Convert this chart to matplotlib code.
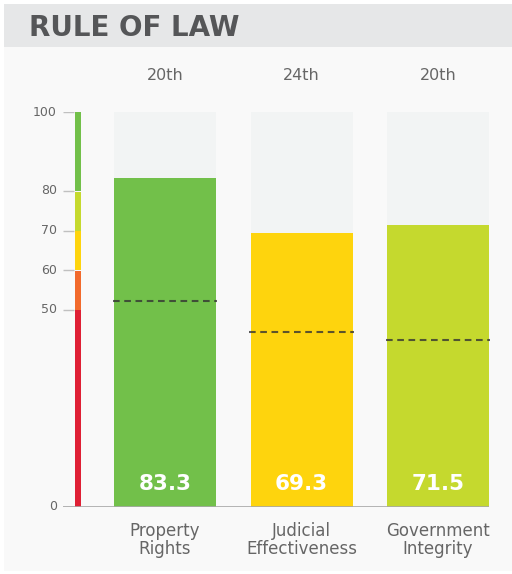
import matplotlib.pyplot as plt
from matplotlib.patches import Rectangle

# scores per component of the rule of law pillar
categories = ["Property\nRights", "Judicial\nEffectiveness", "Government\nIntegrity"]
scores = [83.3, 69.3, 71.5]
world_avg = [52.2, 44.4, 42.4]
ranks = ["20th", "24th", "20th"]
bar_colors = ["#72c04a", "#fed40d", "#c5d92e"]

# colour bands of the score scale
band_edges = [0, 50, 60, 70, 80, 100]
band_colors = ["#df2035", "#f26a2c", "#fed40d", "#c5d92e", "#72c04a"]
ticks = [0, 50, 60, 70, 80, 100]

plt.rcParams["font.family"] = "DejaVu Sans"

W, H = 512, 574
fig = plt.figure(figsize=(W / 100, H / 100), dpi=100)
fig.patch.set_facecolor("white")

# pixel-space background layer
bg = fig.add_axes([0, 0, 1, 1])
bg.set_xlim(0, W)
bg.set_ylim(H, 0)
bg.axis("off")
bg.add_patch(Rectangle((4, 47), W - 4, 524, color="#f9f9f9", lw=0))
bg.add_patch(Rectangle((4, 4), W - 4, 43, color="#e6e7e8", lw=0))
bg.text(29, 36, "RULE OF LAW", fontsize=20, fontweight="bold", color="#555658",
        va="baseline", ha="left")

# chart axes: x in bar units, y in score
px_left, px_right, px_bot, px_top = 0, 512, 507, 112
spacing = 136.5
x0 = 165
ax = fig.add_axes([px_left / W, (H - px_bot) / H, (px_right - px_left) / W, (px_bot - px_top) / H])
ax.set_xlim((px_left - x0) / spacing, (px_right - x0) / spacing)
ax.set_ylim(0, 100)
ax.axis("off")
ax.patch.set_alpha(0)

xs = list(range(len(scores)))
bw = 102 / spacing
ax.bar(xs, [100] * len(xs), width=bw, color="#f2f4f4", zorder=1)
ax.bar(xs, scores, width=bw, color=bar_colors, zorder=2)

for x, avg in zip(xs, world_avg):
    ax.plot([x - bw / 2 - 0.01, x + bw / 2 + 0.01], [avg, avg], ls=(0, (3.2, 2.2)),
            color="#333333", alpha=0.8, lw=1.5, zorder=3)

for x, s in zip(xs, scores):
    ax.text(x, 4.2, f"{s}", ha="center", va="baseline", color="white",
            fontsize=15.5, fontweight="bold", zorder=4)

# colour scale on the left
sx = (78 - x0) / spacing
sw = 6 / spacing
for lo, hi, c in zip(band_edges[:-1], band_edges[1:], band_colors):
    top = hi - 0.25 if hi < 100 else hi
    ax.bar(sx, top - lo, bottom=lo, width=sw, color=c, zorder=2)

tx0, tx1 = (63 - x0) / spacing, (74 - x0) / spacing
for t in ticks:
    ax.plot([tx0, tx1], [t, t], color="#c0c0c0", lw=1, zorder=2, solid_capstyle="butt")
    ax.text((57 - x0) / spacing, t, str(t), ha="right", va="center",
            fontsize=9, color="#666666")

# baseline
ax.plot([tx0, (489 - x0) / spacing], [0, 0], color="#a8a8a8", lw=1.2, zorder=3,
        solid_capstyle="butt")

for x, cat, r in zip(xs, categories, ranks):
    bg.text(x0 + x * spacing, 75, r, ha="center", va="center", fontsize=11.5,
            color="#666666")
    bg.text(x0 + x * spacing, 540, cat, ha="center", va="center", fontsize=12,
            color="#666666", linespacing=0.95)

fig.savefig("out.png", dpi=100)
